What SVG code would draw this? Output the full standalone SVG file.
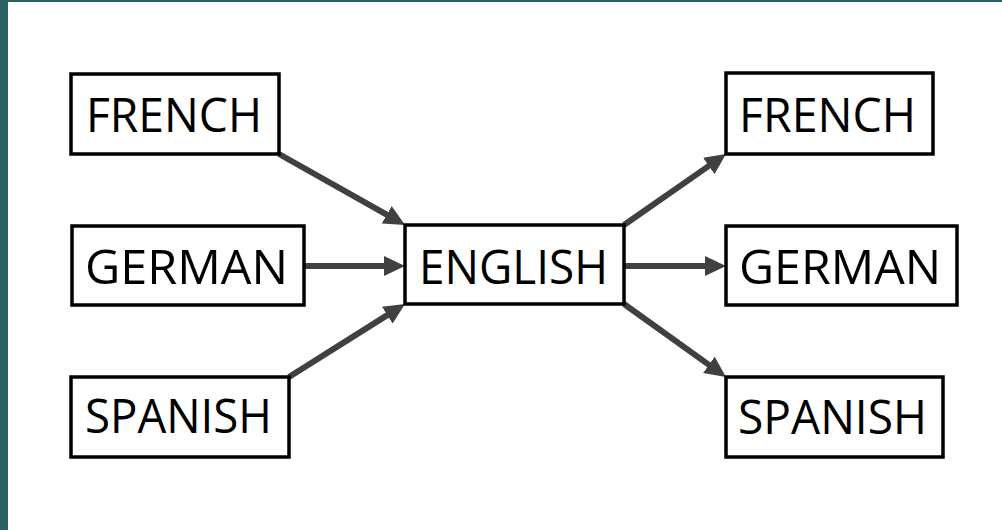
<svg xmlns="http://www.w3.org/2000/svg" width="1002" height="530" viewBox="0 0 1002 530">
  <style>
    .box { fill: #ffffff; stroke: #000000; stroke-width: 3.5; }
    .label { font-family: "Open Sans", "Noto Sans", sans-serif; font-size: 48px; font-weight: 500; fill: #000000; }
    .edge { stroke: #404040; stroke-width: 6; fill: none; }
  </style>
  <defs>
    <marker id="head" viewBox="0 -10 21 20" markerWidth="21" markerHeight="20" refX="1" refY="0" orient="auto" markerUnits="userSpaceOnUse">
      <path d="M0,-10 L21,0 L0,10 z" fill="#404040"/>
    </marker>
  </defs>

  <!-- page background with slide frame -->
  <rect x="0" y="0" width="1002" height="530" fill="#ffffff"/>
  <rect x="0" y="0" width="1002" height="2" fill="#2b6164"/>
  <rect x="0" y="0" width="8" height="530" fill="#2b6164"/>

  <!-- connectors (each line stops at the base of its arrowhead) -->
  <g id="connectors">
    <line class="edge" x1="279" y1="154" x2="387.6" y2="215.2" marker-end="url(#head)"/>
    <line class="edge" x1="304" y1="266" x2="385" y2="266" marker-end="url(#head)"/>
    <line class="edge" x1="289" y1="377" x2="388.1" y2="314.6" marker-end="url(#head)"/>
    <line class="edge" x1="624" y1="225" x2="709.6" y2="165.4" marker-end="url(#head)"/>
    <line class="edge" x1="624" y1="266" x2="706" y2="266" marker-end="url(#head)"/>
    <line class="edge" x1="624" y1="304" x2="709.7" y2="365.4" marker-end="url(#head)"/>
  </g>

  <!-- source languages -->
  <g id="src-french">
    <rect class="box" x="71" y="74" width="208" height="80"/>
    <text class="label" x="86" y="132" textLength="176" lengthAdjust="spacingAndGlyphs">FRENCH</text>
  </g>
  <g id="src-german">
    <rect class="box" x="72" y="226" width="232" height="79"/>
    <text class="label" x="85" y="284" textLength="203" lengthAdjust="spacingAndGlyphs">GERMAN</text>
  </g>
  <g id="src-spanish">
    <rect class="box" x="71" y="377" width="218" height="80"/>
    <text class="label" x="85" y="433" textLength="187" lengthAdjust="spacingAndGlyphs">SPANISH</text>
  </g>

  <!-- pivot language -->
  <g id="pivot-english">
    <rect class="box" x="405" y="225" width="219" height="79"/>
    <text class="label" x="419" y="284" textLength="189" lengthAdjust="spacingAndGlyphs">ENGLISH</text>
  </g>

  <!-- target languages -->
  <g id="dst-french">
    <rect class="box" x="726" y="73" width="207" height="81"/>
    <text class="label" x="739" y="132" textLength="177" lengthAdjust="spacingAndGlyphs">FRENCH</text>
  </g>
  <g id="dst-german">
    <rect class="box" x="726" y="226" width="231" height="79"/>
    <text class="label" x="739" y="284" textLength="202" lengthAdjust="spacingAndGlyphs">GERMAN</text>
  </g>
  <g id="dst-spanish">
    <rect class="box" x="726" y="377" width="217" height="80"/>
    <text class="label" x="738" y="434" textLength="189" lengthAdjust="spacingAndGlyphs">SPANISH</text>
  </g>
</svg>
